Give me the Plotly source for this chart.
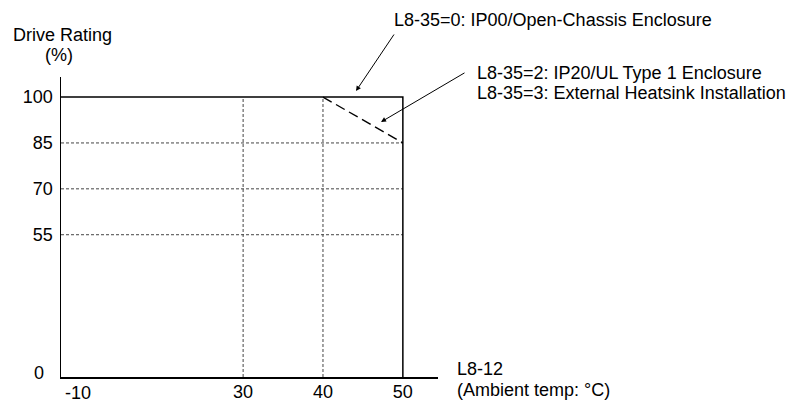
import plotly.graph_objects as go

# ---------------- data ----------------
temp_ticks = [-10, 30, 40, 50]            # x tick labels (°C)
rating_ticks = [0, 55, 70, 85, 100]       # y tick labels (%)

ip00_temp = [-10, 50, 50]                 # L8-35=0 : IP00 / open chassis
ip00_rating = [100, 100, 0]

ip20_temp = [40, 50]                      # L8-35=2/3 : IP20 / external heatsink
ip20_rating = [100, 85]

grid_temp = [30, 40]                      # dotted reference lines
grid_rating = [55, 70, 85]

# ---------------- broken-axis scales ----------------
X_ORIGIN = 7.2     # axis position where -10 °C is drawn (axis is broken below 30 °C)
Y_ORIGIN = 8.5     # axis position where 0 % is drawn (axis is broken below 55 %)


def xm(t):
    return t if t >= 30 else X_ORIGIN + (t + 10) * (30 - X_ORIGIN) / 40


def ym(r):
    return r if r >= 55 else Y_ORIGIN + r * (55 - Y_ORIGIN) / 55


W, H = 795, 400
ML, MR, MT, MB = 61, 357, 77, 23
PW, PH = W - ML - MR, H - MT - MB


def px(p):
    return (p - ML) / PW


def py(p):
    return (H - MB - p) / PH


FONT = "Arial, Liberation Sans, sans-serif"
BLACK = "#000000"
GRID = "#444444"

fig = go.Figure()

# dotted reference lines
gx, gy = [], []
for r in grid_rating:
    gx += [xm(-10), xm(50), None]
    gy += [ym(r), ym(r), None]
for t in grid_temp:
    gx += [xm(t), xm(t), None]
    gy += [ym(0), ym(100), None]
fig.add_trace(go.Scatter(x=gx, y=gy, mode="lines",
                         line=dict(color=GRID, width=1, dash="3px,2px"),
                         hoverinfo="skip", cliponaxis=False))

# L8-35=2/3 derating
fig.add_trace(go.Scatter(x=[xm(t) for t in ip20_temp], y=[ym(r) for r in ip20_rating],
                         mode="lines", line=dict(color=BLACK, width=1.4, dash="10px,5px"),
                         cliponaxis=False))

# L8-35=0 limit
fig.add_trace(go.Scatter(x=[xm(t) for t in ip00_temp], y=[ym(r) for r in ip00_rating],
                         mode="lines", line=dict(color=BLACK, width=1.5),
                         cliponaxis=False))

tickfont = dict(family=FONT, size=18, color=BLACK)

fig.update_xaxes(range=[X_ORIGIN, 54.4], showline=True, linecolor=BLACK, linewidth=1.5,
                 showgrid=False, zeroline=False, automargin=False,
                 tickvals=[xm(t) for t in temp_ticks if t >= 30],
                 ticktext=[str(t) for t in temp_ticks if t >= 30],
                 ticks="", ticklabelstandoff=-2, tickfont=tickfont)
fig.update_yaxes(range=[Y_ORIGIN, 106.55], showline=True, linecolor=BLACK, linewidth=1.5,
                 showgrid=False, zeroline=False, automargin=False,
                 tickvals=[ym(r) for r in rating_ticks if r >= 55],
                 ticktext=[str(r) for r in rating_ticks if r >= 55],
                 ticks="outside", ticklen=3, tickcolor="rgba(0,0,0,0)", tickfont=tickfont)

texts = [
    ("Drive Rating", 62, 34.5, "center"),
    ("(%)", 59, 54.5, "center"),
    ("L8-35=0: IP00/Open-Chassis Enclosure", 392, 19.5, "left"),
    ("L8-35=2: IP20/UL Type 1 Enclosure", 475, 72.7, "left"),
    ("L8-35=3: External Heatsink Installation", 475, 92.7, "left"),
    ("L8-12", 455, 368.5, "left"),
    ("(Ambient temp: °C)", 455, 389.5, "left"),
    (str(rating_ticks[0]), 39, 372.7, "center"),
    (str(temp_ticks[0]), 77.5, 393, "center"),
]
annotations = []
for txt, x, y, anc in texts:
    annotations.append(dict(text=txt, x=px(x), y=py(y), xref="paper", yref="paper",
                            xanchor=anc, yanchor="middle", showarrow=False,
                            font=dict(family=FONT, size=18, color=BLACK)))

# leader arrows (tip position, tail offset in pixels)
for tip_x, tip_y, ax, ay in [(356, 91, 39, -58), (381, 122, 85, -50)]:
    annotations.append(dict(text="", x=px(tip_x), y=py(tip_y), xref="paper", yref="paper",
                            showarrow=True, ax=ax, ay=ay, arrowhead=2, arrowsize=1,
                            arrowwidth=1, arrowcolor=BLACK))

fig.update_layout(template="none", width=W, height=H, margin=dict(l=ML, r=MR, t=MT, b=MB),
                  plot_bgcolor="white", paper_bgcolor="white", showlegend=False,
                  hovermode=False,
                  annotations=annotations, font=dict(family=FONT, color=BLACK))

fig.write_html("out.html", config={"displayModeBar": False, "staticPlot": True},
               post_script="document.body.style.margin='0';document.body.style.overflow='hidden';")
